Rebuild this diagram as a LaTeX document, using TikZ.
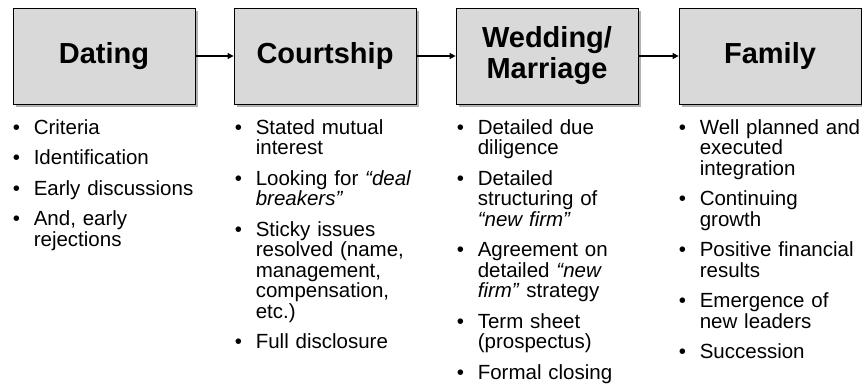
\documentclass[tikz,border=0pt]{standalone}
\usepackage{fontspec}
\setmainfont{Liberation Sans}
\usetikzlibrary{arrows.meta, positioning, shadows}
\definecolor{boxGray}{HTML}{D9D9D9}
\newcommand{\bitem}{\par\hangindent=21pt\hangafter=1\noindent\rule{0pt}{16pt}\makebox[21pt][l]{\textbullet}}

\begin{document}
\begin{tikzpicture}[x=1pt, y=-1pt,
    stage/.style={draw, line width=0.8pt, fill=boxGray, minimum width=182pt, minimum height=96pt,
      align=center, font=\bfseries\fontsize{29}{31}\selectfont,
      drop shadow={shadow xshift=2.5pt, shadow yshift=-2.5pt, fill=black, opacity=0.3}},
    pts/.style={inner sep=0pt, text width=200pt, align=left,
      font=\fontsize{20.5}{20.5}\selectfont,
      execute at begin node={\setlength{\parskip}{10pt}\lineskiplimit=-20pt}},
    flow/.style={line width=1.2pt, -{Triangle[length=6pt, width=6pt]}}]
  \useasboundingbox (0,0) rectangle (862,384);
  % stages
  \node[stage] (dating)  at (104,56) {Dating};
  \node[stage] (court)   at (325,56) {Courtship};
  \node[stage] (wedding) at (547,56) {Wedding/\\Marriage};
  \node[stage] (family)  at (770,56) {Family};
  \foreach \a/\b in {dating/court, court/wedding, wedding/family}
    \draw[flow] (\a) -- (\b);
  % bullet points
  \node[pts, below right=-1pt and 0pt of dating.south west] (datingpts) {%
    \bitem Criteria
    \bitem Identification
    \bitem Early discussions
    \bitem And, early\newline rejections\par};
  \node[pts, below right=-1pt and 1pt of court.south west] (courtpts) {%
    \bitem Stated mutual\newline interest
    \bitem Looking for \textit{“deal}\newline\textit{breakers”}
    \bitem Sticky issues\newline resolved (name,\newline management,\newline compensation,\newline etc.)
    \bitem Full disclosure\par};
  \node[pts, below right=-1pt and 1pt of wedding.south west] (weddingpts) {%
    \bitem Detailed due\newline diligence
    \bitem Detailed\newline structuring of\newline \textit{“new firm”}
    \bitem Agreement on\newline detailed \textit{“new}\newline\textit{firm”} strategy
    \bitem Term sheet\newline (prospectus)
    \bitem Formal closing\par};
  \node[pts, below right=-1pt and 0pt of family.south west] (familypts) {%
    \bitem Well planned and\newline executed\newline integration
    \bitem Continuing\newline growth
    \bitem Positive financial\newline results
    \bitem Emergence of\newline new leaders
    \bitem Succession\par};
\end{tikzpicture}
\end{document}
